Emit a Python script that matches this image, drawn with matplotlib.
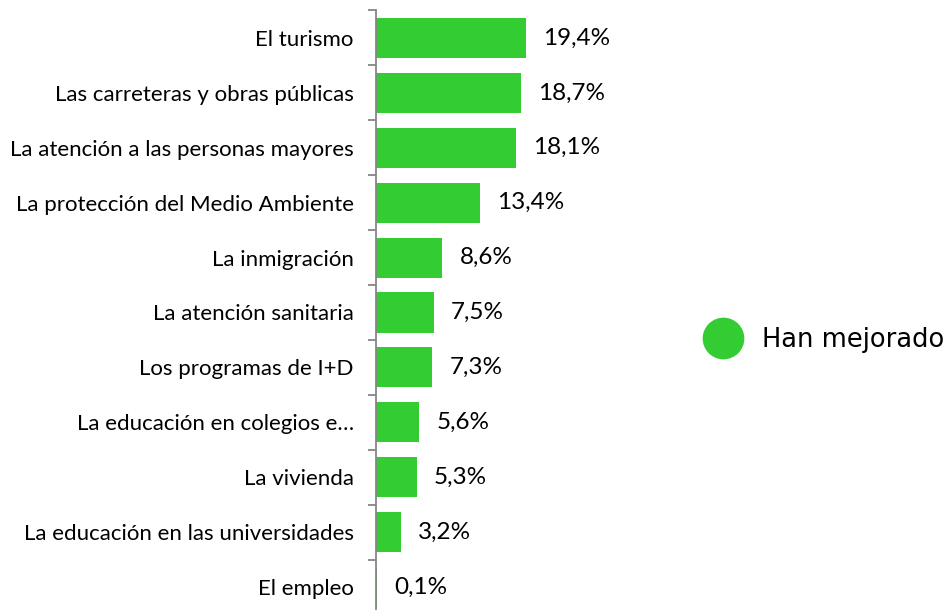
import matplotlib.pyplot as plt
from matplotlib.lines import Line2D

categorias = [
    'El turismo',
    'Las carreteras y obras públicas',
    'La atención a las personas mayores',
    'La protección del Medio Ambiente',
    'La inmigración',
    'La atención sanitaria',
    'Los programas de I+D',
    'La educación en colegios e…',
    'La vivienda',
    'La educación en las universidades',
    'El empleo',
]
valores = [19.4, 18.7, 18.1, 13.4, 8.6, 7.5, 7.3, 5.6, 5.3, 3.2, 0.1]
etiquetas = ['19,4%', '18,7%', '18,1%', '13,4%', '8,6%', '7,5%', '7,3%',
             '5,6%', '5,3%', '3,2%', '0,1%']

verde = '#33CC33'
gris = '#868686'

fig = plt.figure(figsize=(9.47, 6.10), dpi=100)
# eje: izquierda en x=376px, categorias cada ~55px
ax = fig.add_axes([376 / 947, -4.5 / 610, 334 / 947, 604 / 610])

n = len(categorias)
pos = list(range(n))
ax.barh(pos, valores, height=0.73, color=verde)
ax.set_ylim(n - 0.5, -0.5)
ax.set_xlim(0, 334 / 7.73)

# ticks en los limites entre categorias, etiquetas en el centro
ax.set_yticks([i - 0.5 for i in range(n + 1)])
ax.set_yticklabels([])
ax.set_yticks(pos, minor=True)
ax.set_yticklabels(categorias, minor=True, fontsize=16, family='Lato',
                   color='black')
ax.tick_params(axis='y', which='major', length=6, width=1.3, color=gris, direction='out')
ax.tick_params(axis='y', which='minor', length=0, pad=16)
ax.set_xticks([])

for s in ['top', 'right', 'bottom']:
    ax.spines[s].set_visible(False)
ax.spines['left'].set_color(gris)
ax.spines['left'].set_linewidth(1.3)

for p, v, t in zip(pos, valores, etiquetas):
    ax.annotate(t, (v, p), xytext=(17, 0), textcoords='offset pixels',
                va='center', ha='left', fontsize=17.5, family='Lato',
                color='black')

handle = Line2D([], [], marker='o', linestyle='none', markersize=29,
                markerfacecolor=verde, markeredgecolor=verde)
fig.legend([handle], ['Han mejorado'], loc='center left',
           bbox_to_anchor=(693 / 947, 1 - 340 / 610), frameon=False,
           prop={'family': 'DejaVu Sans', 'size': 18.5}, handletextpad=0.87,
           borderpad=0, handlelength=1.3)

fig.savefig('out.png', dpi=100)
